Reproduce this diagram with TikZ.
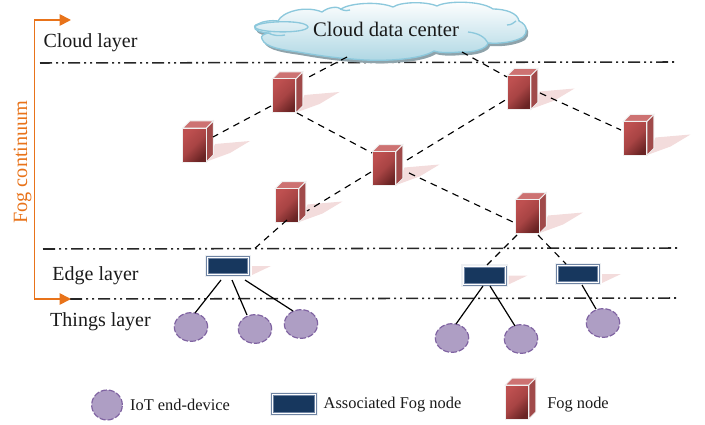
\documentclass[tikz,border=0pt]{standalone}
\usepackage{fontspec}
\setmainfont{Liberation Serif}
\usetikzlibrary{arrows.meta,shapes.geometric}
\definecolor{orangeline}{HTML}{E8731A}
\definecolor{inktext}{HTML}{1A1A1A}
\definecolor{pinkshadow}{HTML}{F3DCDC}
\definecolor{cloudedge}{HTML}{8CC8DC}
\definecolor{cloudshadow}{HTML}{8FA3AB}
\definecolor{cloudfill}{HTML}{ADD6E3}
\definecolor{navyfill}{HTML}{17375E}
\definecolor{navyedge}{HTML}{6F84A3}
\definecolor{haloline}{HTML}{EEF0F3}
\definecolor{purplefill}{HTML}{AE9EC4}
\definecolor{purpleedge}{HTML}{8064A2}
\definecolor{fogA}{HTML}{BE5050}
\definecolor{fogM}{HTML}{A84444}
\definecolor{fogB}{HTML}{6A2424}
\definecolor{fogtop}{HTML}{CD7272}
\definecolor{fogside}{HTML}{A04A4A}
\tikzset{
  x=0.75pt, y=-0.75pt,
  labeltext/.style={text=inktext, inner sep=0pt, font=\fontsize{15pt}{17pt}\selectfont},
  legendtext/.style={text=inktext, inner sep=0pt, font=\fontsize{12.3pt}{14pt}\selectfont},
  levelline/.style={black!85, line width=1.15pt, dash pattern=on 9pt off 3pt on 1.5pt off 3pt on 1.5pt off 3pt},
  linkdash/.style={black, line width=0.85pt, dash pattern=on 5pt off 4pt},
  linksolid/.style={black, line width=0.9pt},
  fogfront/.style={rectangle, draw=white!94!black, line width=0.75pt, inner sep=0pt,
    minimum width=17.6pt, minimum height=25.5pt, top color=fogA, bottom color=fogB, middle color=fogM, shading angle=45},
  assocbox/.style={rectangle, draw=navyedge, double=white, double distance=0.8pt, line width=0.6pt, fill=navyfill,
    inner sep=0pt, minimum width=31pt, minimum height=13pt,
    preaction={draw=haloline, line width=3.6pt}},
  iotdev/.style={ellipse, draw=purpleedge, fill=purplefill, line width=0.9pt, dash pattern=on 4.5pt off 1.5pt,
    inner sep=0pt, minimum width=25pt, minimum height=21.5pt},
}
\newcommand{\fogbody}[3]{%
  \begin{scope}[shift={(#2,#3)}]
    \fill[fogside, draw=white!94!black, line width=0.75pt] (11.75,-17) -- (18.75,-24) -- (18.75,10) -- (11.75,17) -- cycle;
    \fill[fogtop, draw=white!94!black, line width=0.75pt] (-11.75,-17) -- (-4.75,-24) -- (18.75,-24) -- (11.75,-17) -- cycle;
    \node[fogfront] (#1) at (0,0) {};
  \end{scope}}
\newcommand{\fognode}[3]{%
  \fill[pinkshadow, shift={(#2,#3)}] (20.5,-1) -- (55.5,-4) -- (35.5,8) -- (13.5,16) -- cycle;
  \fogbody{#1}{#2}{#3}}
\newcommand{\assocnode}[3]{%
  \fill[pinkshadow, shift={(#2,#3)}] (24,0) -- (43,0) -- (24,9) -- cycle;
  \node[assocbox] (#1) at (#2,#3) {};}
\newcommand{\lnk}[5]{\draw[#1] ([shift={(#3)}]#2.center) -- ([shift={(#5)}]#4.center);}
\newcommand{\cloudpath}{%
  (278,21) .. controls (282,12) and (305,5) .. (322,12)
  .. controls (328,7) and (338,6) .. (341,9)
  .. controls (350,3) and (378,1) .. (393,7)
  .. controls (400,2) and (425,1) .. (437,6)
  .. controls (445,1) and (480,0) .. (493,9)
  .. controls (505,9) and (518,13) .. (519,21)
  .. controls (528,25) and (528,33) .. (523,37)
  .. controls (515,42) and (500,44) .. (488,43)
  .. controls (487,49) and (472,53) .. (460,52)
  .. controls (450,53) and (440,53) .. (434,51)
  .. controls (420,60) and (380,62) .. (352,59)
  .. controls (335,58) and (315,55) .. (298,52)
  .. controls (285,50) and (265,48) .. (262,39)
  .. controls (260,36) and (264,34) .. (268,33)
  .. controls (254,32) and (251,26) .. (258,24)
  .. controls (263,21) and (272,20) .. (278,21) -- cycle}
\begin{document}
\begin{tikzpicture}
\useasboundingbox (0,0) rectangle (705,424);

% level lines
\coordinate (la1) at (40,63);  \coordinate (la2) at (674,62);
\coordinate (lb1) at (43,249); \coordinate (lb2) at (677,248);
\coordinate (lc1) at (70,299); \coordinate (lc2) at (677,298);
\draw[levelline] (la1) -- (la2);
\draw[levelline] (lb1) -- (lb2);
\draw[levelline] (lc1) -- (lc2);

% fog continuum bracket
\coordinate (otop) at (71,20);
\coordinate (otc) at (34.5,20);
\coordinate (obc) at (34.5,299);
\coordinate (obot) at (71,299);
\draw[orangeline, line width=1.3pt, line join=miter,
  {Triangle[length=8.5pt,width=8.5pt]}-{Triangle[length=8.5pt,width=8.5pt]}]
  (otop) -- (otc) -- (obc) -- (obot);
\node[rotate=90, text=orangeline, inner sep=0pt, font=\fontsize{15.2pt}{17pt}\selectfont] (fogc) at (22.5,162) {Fog continuum};

% cloud
\fill[cloudshadow, shift={(2,3)}] \cloudpath;
\shade[top color=white, bottom color=cloudfill, draw=cloudedge, line width=1pt] \cloudpath;
\draw[cloudedge, line width=1pt] (255,27) .. controls (256,21) and (306,19) .. (308,27) .. controls (306,34) and (256,33) .. (255,27) -- cycle;
\draw[cloudedge, line width=1pt] (268,33) .. controls (274,36) and (280,36) .. (285,35);
\draw[cloudedge, line width=1pt] (340,9) .. controls (345,11) and (348,11) .. (350,10);
\draw[cloudedge, line width=1pt] (468,32) .. controls (478,33) and (485,37) .. (488,43);
\draw[cloudedge, line width=1pt] (507,25) .. controls (511,25) and (514,23) .. (516,21);
\node[text=inktext, inner sep=0pt, font=\fontsize{15.5pt}{17pt}\selectfont] (cloud) at (386,29) {Cloud data center};

% layer labels
\node[labeltext, anchor=center] (lcloud) at (90.5,43) {Cloud layer};
\node[labeltext, anchor=center] (ledge) at (95.5,276) {Edge layer};
\node[labeltext, anchor=center] (lthings) at (100.5,322) {Things layer};

% fog nodes
\fognode{Fa}{194.5}{145}
\fognode{Fb}{284}{96}
\fognode{Fc}{384}{168.5}
\fognode{Fd}{287}{205.5}
\fognode{Fe}{519}{92.5}
\fognode{Ff}{635}{138.5}
\fognode{Fg}{527.5}{216.5}

% associated fog nodes
\assocnode{Aa}{228}{266}
\assocnode{Ab}{484.5}{275.5}
\assocnode{Ac}{578}{274}

% IoT devices
\node[iotdev] (Ca) at (191,327) {};
\node[iotdev] (Cb) at (255,329) {};
\node[iotdev] (Cc) at (301,324) {};
\node[iotdev] (Cd) at (452,338) {};
\node[iotdev] (Ce) at (521,339) {};
\node[iotdev] (Cf) at (603,323) {};

% dashed links
\lnk{linkdash}{cloud}{-39,28}{Fb}{23,-18}
\lnk{linkdash}{cloud}{76,23}{Fe}{-12,-15.5}
\lnk{linkdash}{Fb}{-13,10}{Fa}{18.5,-8}
\lnk{linkdash}{Fb}{13,17}{Fc}{-12,-15.5}
\lnk{linkdash}{Fc}{-13,3.5}{Fd}{20,5.5}
\lnk{linkdash}{Fc}{23,-8.5}{Fe}{-12,6.5}
\lnk{linkdash}{Fe}{21,0.5}{Ff}{-14,-8.5}
\lnk{linkdash}{Fc}{25,4.5}{Fg}{-14.5,5.5}
\lnk{linkdash}{Fd}{0,14.5}{Aa}{25,-16}
\lnk{linkdash}{Fg}{-10.5,18.5}{Ab}{2.5,-10.5}
\lnk{linkdash}{Fg}{10.5,18.5}{Ac}{-12,-10}

% solid links
\lnk{linksolid}{Aa}{-7,14}{Ca}{4,-14}
\lnk{linksolid}{Aa}{4,14}{Cb}{-8,-14}
\lnk{linksolid}{Aa}{17,14}{Cc}{-8,-13}
\lnk{linksolid}{Ab}{-1.5,10.5}{Cd}{4,-14}
\lnk{linksolid}{Ab}{5.5,10.5}{Ce}{-6,-13}
\lnk{linksolid}{Ac}{4,11}{Cf}{-7,-14}

% legend
\node[iotdev, minimum width=23pt, minimum height=22.5pt] (Lc) at (107,405) {};
\node[legendtext] (Lct) at (180,405) {IoT end-device};
\node[assocbox, minimum width=32pt, minimum height=14.5pt] (La) at (294,404) {};
\node[legendtext] (Lat) at (392.5,405) {Associated Fog node};
\fogbody{Lf}{517}{402}
\node[legendtext] (Lft) at (578,405) {Fog node};
\end{tikzpicture}
\end{document}
